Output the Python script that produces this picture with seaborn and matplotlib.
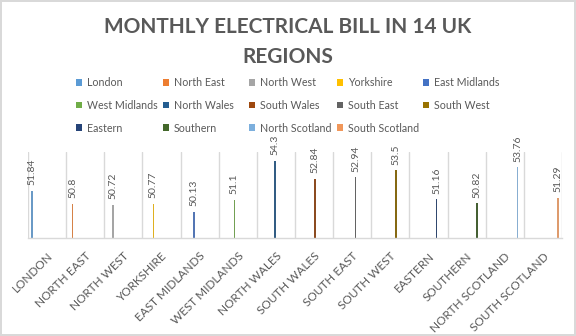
import numpy as np
import pandas as pd
import matplotlib
matplotlib.use("Agg")
import matplotlib.pyplot as plt
from matplotlib.patches import Patch
import seaborn as sns

regions = ["London", "North East", "North West", "Yorkshire", "East Midlands",
           "West Midlands", "North Wales", "South Wales", "South East", "South West",
           "Eastern", "Southern", "North Scotland", "South Scotland"]
bills = [51.84, 50.8, 50.72, 50.77, 50.13, 51.1, 54.3,
         52.84, 52.94, 53.5, 51.16, 50.82, 53.76, 51.29]
colors = ["#5B9BD5", "#ED7D31", "#A5A5A5", "#FFC000", "#4472C4", "#70AD47", "#255E91",
          "#9E480E", "#636363", "#997300", "#264478", "#43682B", "#7CAFDD", "#F1975A"]
title = "MONTHLY ELECTRICAL BILL IN 14 UK\nREGIONS"

sns.set_theme(style="white")
plt.rcParams["font.family"] = ["Lato", "DejaVu Sans"]
TXT = "#595959"
GRID = "#d9d9d9"

df = pd.DataFrame({"region": regions, "bill": bills, "series": regions})
palette = dict(zip(regions, colors))

fig = plt.figure(figsize=(5.76, 3.36), dpi=100)
fig.patch.set_facecolor("white")
fig.patch.set_edgecolor(GRID)
fig.patch.set_linewidth(1.5)

W, H = 576, 336
left, right, top, bottom = 28, 562, 152, 238
ax = fig.add_axes([left / W, 1 - bottom / H, (right - left) / W, (bottom - top) / H])

sns.barplot(data=df, x="region", y="bill", hue="series", hue_order=regions,
            order=regions, palette=palette, dodge=True, width=0.848, gap=0.3,
            linewidth=0, legend=False, ax=ax, errorbar=None)
for patch in ax.patches:
    patch.set_antialiased(False)

ax.set_ylim(48, 55)
ax.set_xlim(-0.5, len(regions) - 0.5)
ax.set_yticks([])
ax.set_xlabel("")
ax.set_ylabel("")
for s in ("left", "right", "top"):
    ax.spines[s].set_visible(False)
ax.spines["bottom"].set_color(GRID)
ax.spines["bottom"].set_linewidth(1)

# vertical gridlines between categories
ax.set_xticks(np.arange(-0.5, len(regions), 1), minor=True)
ax.grid(which="minor", axis="x", color=GRID, linewidth=1)
ax.grid(which="major", visible=False)
ax.set_axisbelow(True)
ax.tick_params(axis="x", which="both", length=0)
ax.tick_params(axis="x", which="major", pad=9)
ax.set_xticks(range(len(regions)))
ax.set_xticklabels([r.upper() for r in regions], rotation=45, ha="right",
                   rotation_mode="anchor", fontsize=8.5, color=TXT)

for cont in ax.containers:
    ax.bar_label(cont, fmt="%g", rotation=90, padding=4, fontsize=7.5,
                 color=TXT, clip_on=False)

fig.text(288 / W, 1 - 17 / H, title, ha="center", va="top", fontsize=15,
         fontweight="bold", color=TXT, linespacing=1.6)

# legend laid out in five evenly spaced columns
col_x = [76, 163, 249, 337, 423]
for c, x in enumerate(col_x):
    idx = list(range(c, len(regions), 5))
    handles = [Patch(facecolor=colors[i], edgecolor="none") for i in idx]
    labels = [regions[i] for i in idx]
    leg = fig.legend(handles, labels, loc="upper left",
                     bbox_to_anchor=(x / W, 1 - 77 / H), frameon=False,
                     fontsize=7.7, handlelength=0.6, handleheight=0.6,
                     handletextpad=0.4, labelspacing=1.1, borderpad=0,
                     borderaxespad=0)
    for t in leg.get_texts():
        t.set_color(TXT)

fig.savefig("out.png", dpi=100, facecolor=fig.get_facecolor(),
            edgecolor=fig.get_edgecolor())
